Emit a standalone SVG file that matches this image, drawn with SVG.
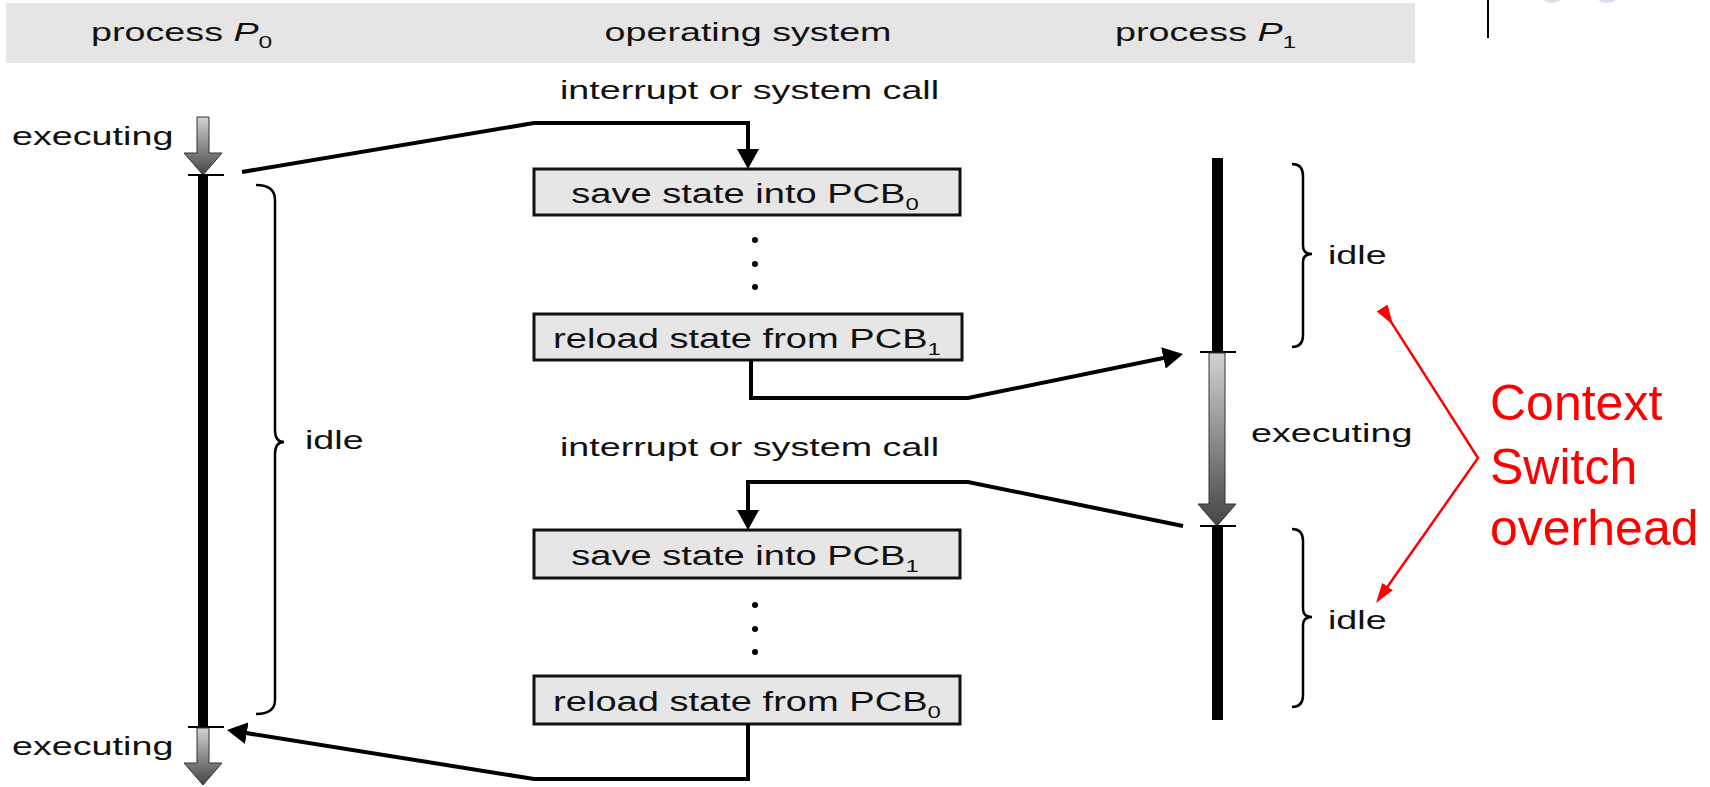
<svg xmlns="http://www.w3.org/2000/svg" width="1710" height="787" viewBox="0 0 1710 787">
  <style>
    .t { font-family: "Liberation Sans", Arial, sans-serif; font-size: 26px; fill: #111; }
    .bt { font-family: "Liberation Sans", Arial, sans-serif; font-size: 27px; fill: #111; }
    .bx { fill: #e6e6e6; stroke: #111; stroke-width: 3; }
    .conn { fill: none; stroke: #000; stroke-width: 4; stroke-linejoin: miter; }
    .red { fill: none; stroke: #ff0000; stroke-width: 2.5; }
    .tick { stroke: #000; stroke-width: 2; }
    .brace { fill: none; stroke: #000; stroke-width: 2.5; }
    .garrow { stroke: #333; stroke-width: 1; }
    .ctx { font-family: "Liberation Sans", Arial, sans-serif; font-size: 50px; fill: #ff0000; }
  </style>
  <defs>
    <linearGradient id="grad" x1="0" y1="0" x2="0" y2="1">
      <stop offset="0" stop-color="#d2d2d2"/>
      <stop offset="1" stop-color="#454545"/>
    </linearGradient>
    <marker id="ah" viewBox="0 0 20 22" refX="10" refY="11" markerWidth="20" markerHeight="22" markerUnits="userSpaceOnUse" orient="auto">
      <path d="M0,0 L20,11 L0,22 z" fill="#000"/>
    </marker>
    <marker id="rh" viewBox="0 0 20 13" refX="10" refY="6.5" markerWidth="20" markerHeight="13" markerUnits="userSpaceOnUse" orient="auto">
      <path d="M0,0 L20,6.5 L0,13 z" fill="#ff0000"/>
    </marker>
  </defs>

  <!-- slide decoration -->
  <line x1="1488" y1="0" x2="1488" y2="38" stroke="#000" stroke-width="2"/>
  <circle cx="1552" cy="-12" r="15" fill="#dcdcf0"/>
  <circle cx="1607" cy="-12" r="15" fill="#dcdcf0"/>

  <!-- column header band -->
  <g id="header">
    <rect x="6" y="3" width="1409" height="60" fill="#e5e5e5"/>
    <text class="t" transform="translate(91,41) scale(1.45,1)">process <tspan font-style="italic">P</tspan><tspan font-size="17" dy="7">0</tspan></text>
    <text class="t" text-anchor="middle" transform="translate(748,41) scale(1.45,1)">operating system</text>
    <text class="t" transform="translate(1115,41) scale(1.45,1)">process <tspan font-style="italic">P</tspan><tspan font-size="17" dy="7">1</tspan></text>
  </g>

  <!-- process P0 timeline -->
  <g id="p0">
    <text class="t" transform="translate(12,145) scale(1.45,1)">executing</text>
    <polygon class="garrow" fill="url(#grad)" points="197,117 209,117 209,153 222,153 203,175 184,153 197,153"/>
    <line class="tick" x1="188" y1="175" x2="224" y2="175"/>
    <rect x="198" y="175" width="10" height="552" fill="#000"/>
    <line class="tick" x1="188" y1="727" x2="224" y2="727"/>
    <polygon class="garrow" fill="url(#grad)" points="197,728 209,728 209,763 222,763 203,785 184,763 197,763"/>
    <text class="t" transform="translate(12,755) scale(1.45,1)">executing</text>
    <path class="brace" d="M256,185 Q275,185 275,200 L275,430 Q275,442 284,442 Q275,442 275,454 L275,700 Q275,714 256,714"/>
    <text class="t" transform="translate(305,449) scale(1.45,1)">idle</text>
  </g>

  <!-- operating system steps -->
  <g id="os-labels">
    <text class="t" transform="translate(560,99) scale(1.45,1)">interrupt or system call</text>
    <text class="t" transform="translate(560,456) scale(1.45,1)">interrupt or system call</text>
  </g>
  <g id="save0">
    <rect class="bx" x="534" y="169" width="426" height="46"/>
    <text class="bt" text-anchor="middle" transform="translate(745,203) scale(1.41,1)">save state into PCB<tspan font-size="17" dy="7">0</tspan></text>
  </g>
  <g id="dots1" fill="#000">
    <circle cx="755" cy="240" r="3"/>
    <circle cx="755" cy="264" r="3"/>
    <circle cx="755" cy="287" r="3"/>
  </g>
  <g id="reload1">
    <rect class="bx" x="534" y="314" width="428" height="46"/>
    <text class="bt" text-anchor="middle" transform="translate(747,348) scale(1.41,1)">reload state from PCB<tspan font-size="17" dy="7">1</tspan></text>
  </g>
  <g id="save1">
    <rect class="bx" x="534" y="530" width="426" height="48"/>
    <text class="bt" text-anchor="middle" transform="translate(745,565) scale(1.41,1)">save state into PCB<tspan font-size="17" dy="7">1</tspan></text>
  </g>
  <g id="dots2" fill="#000">
    <circle cx="755" cy="605" r="3"/>
    <circle cx="755" cy="629" r="3"/>
    <circle cx="755" cy="652" r="3"/>
  </g>
  <g id="reload0">
    <rect class="bx" x="534" y="676" width="426" height="48"/>
    <text class="bt" text-anchor="middle" transform="translate(747,711) scale(1.41,1)">reload state from PCB<tspan font-size="17" dy="7">0</tspan></text>
  </g>

  <!-- process P1 timeline -->
  <g id="p1">
    <rect x="1212" y="158" width="11" height="194" fill="#000"/>
    <line class="tick" x1="1200" y1="352" x2="1236" y2="352"/>
    <polygon class="garrow" fill="url(#grad)" points="1209,353 1225,353 1225,504 1236,504 1217,526 1198,504 1209,504"/>
    <line class="tick" x1="1200" y1="526" x2="1236" y2="526"/>
    <rect x="1212" y="526" width="11" height="194" fill="#000"/>
    <path class="brace" d="M1292,164 Q1303,164 1303,176 L1303,246 Q1303,254 1312,254 Q1303,254 1303,262 L1303,335 Q1303,347 1292,347"/>
    <text class="t" transform="translate(1328,264) scale(1.45,1)">idle</text>
    <text class="t" transform="translate(1251,442) scale(1.45,1)">executing</text>
    <path class="brace" d="M1292,529 Q1303,529 1303,541 L1303,609 Q1303,617 1312,617 Q1303,617 1303,625 L1303,695 Q1303,707 1292,707"/>
    <text class="t" transform="translate(1328,629) scale(1.45,1)">idle</text>
  </g>

  <!-- control-flow connectors -->
  <g id="connectors">
    <polyline class="conn" points="242,172 534,123 748,123 748,159" marker-end="url(#ah)"/>
    <polyline class="conn" points="751,360 751,398 968,398 1173.2,356" marker-end="url(#ah)"/>
    <polyline class="conn" points="1183,526 968,482 748,482 748,520" marker-end="url(#ah)"/>
    <polyline class="conn" points="748,724 748,779 534,779 236.9,731.6" marker-end="url(#ah)"/>
  </g>

  <!-- overhead annotation -->
  <g id="overhead">
    <polyline class="red" points="1387.5,316.4 1478,458 1381.8,594.8" marker-start="url(#rh)" marker-end="url(#rh)"/>
    <text class="ctx" x="1490" y="420">Context</text>
    <text class="ctx" x="1490" y="484">Switch</text>
    <text class="ctx" x="1490" y="545">overhead</text>
  </g>
</svg>
